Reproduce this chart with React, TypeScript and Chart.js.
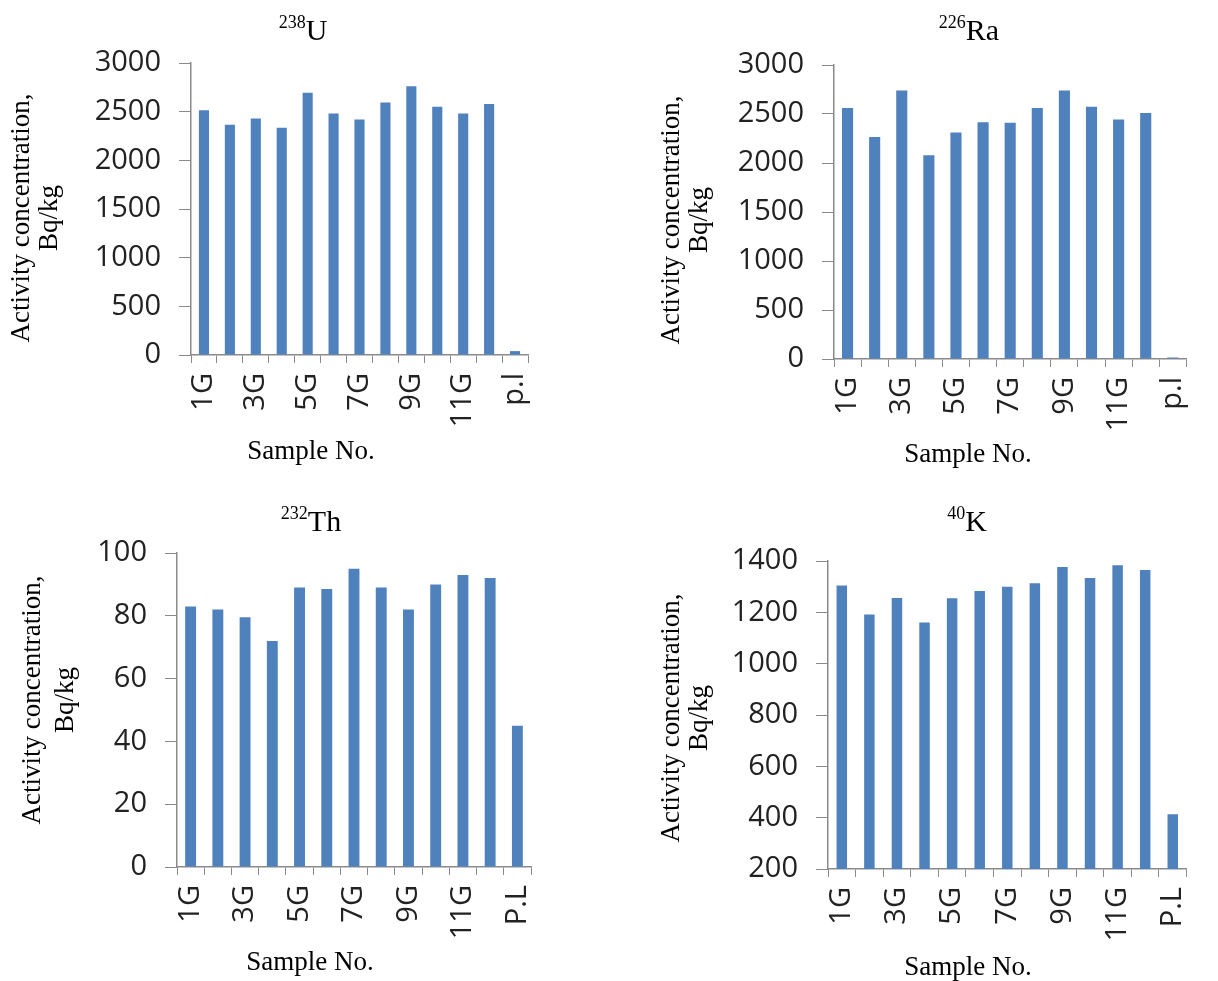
import React, { useEffect, useRef } from "react";
import { Chart, registerables } from "chart.js";
Chart.register(...registerables);

const categoriesLower = ["1G", "2G", "3G", "4G", "5G", "6G", "7G", "8G", "9G", "10G", "11G", "12G", "p.l"];
const categoriesUpper = ["1G", "2G", "3G", "4G", "5G", "6G", "7G", "8G", "9G", "10G", "11G", "12G", "P.L"];

const u238 = [2515, 2365, 2430, 2335, 2695, 2480, 2420, 2595, 2760, 2550, 2480, 2580, 40];
const ra226 = [2560, 2265, 2740, 2080, 2310, 2415, 2410, 2560, 2740, 2575, 2445, 2510, 15];
const th232 = [83, 82, 79.5, 72, 89, 88.5, 95, 89, 82, 90, 93, 92, 45];
const k40 = [1305, 1192, 1256, 1160, 1255, 1283, 1300, 1313, 1377, 1334, 1383, 1365, 413];

const yTitleLines = ["Activity concentration,", "Bq/kg"];
const xTitleText = "Sample No.";

const BAR = "#4F81BD";
const AXIS = "#8a8a8a";
const SERIF = '"Liberation Serif", "Times New Roman", serif';
const SANS = '"Open Sans", "Noto Sans", sans-serif';

type Spec = {
  left: number; top: number; w: number; h: number;
  mass: string; sym: string;
  labels: string[]; values: number[];
  min: number; max: number; step: number;
  padR: number; padT: number;
  yW: number; xH: number;
  titleX: number; titleY: number;
  xtX: number; xtY: number;
  ytX1: number; ytX2: number; ytY: number;
  barPct: number;
};

const specs: Spec[] = [
  { left: 0, top: 0, w: 609, h: 490, mass: "238", sym: "U", labels: categoriesLower, values: u238,
    min: 0, max: 3000, step: 500, padR: 81, padT: 63, yW: 191, xH: 135,
    titleX: 303, titleY: 40, xtX: 311, xtY: 452, ytX1: 22, ytX2: 50, ytY: 218, barPct: 0.39 },
  { left: 609, top: 0, w: 609, h: 490, mass: "226", sym: "Ra", labels: categoriesLower, values: ra226,
    min: 0, max: 3000, step: 500, padR: 10, padT: 65, yW: 225, xH: 131,
    titleX: 360, titleY: 40, xtX: 359, xtY: 455, ytX1: 63, ytX2: 91, ytY: 220, barPct: 0.41 },
  { left: 0, top: 490, w: 609, h: 491, mass: "232", sym: "Th", labels: categoriesUpper, values: th232,
    min: 0, max: 100, step: 20, padR: 78, padT: 63, yW: 177, xH: 114,
    titleX: 311, titleY: 41, xtX: 310, xtY: 473, ytX1: 33, ytX2: 66, ytY: 210, barPct: 0.40 },
  { left: 609, top: 490, w: 609, h: 491, mass: "40", sym: "K", labels: categoriesUpper, values: k40,
    min: 200, max: 1400, step: 200, padR: 11, padT: 71, yW: 219, xH: 112,
    titleX: 358, titleY: 41, xtX: 359, xtY: 478, ytX1: 63, ytX2: 91, ytY: 228, barPct: 0.38 },
];

const textPlugin = {
  id: "isoText",
  afterDraw(chart: any, _args: any, opts: any) {
    const { ctx } = chart;
    ctx.save();
    ctx.fillStyle = "#000";
    ctx.textBaseline = "alphabetic";
    const supFont = `18px ${SERIF}`;
    const mainFont = `30px ${SERIF}`;
    ctx.font = supFont;
    const w1 = ctx.measureText(opts.mass).width;
    ctx.font = mainFont;
    const w2 = ctx.measureText(opts.sym).width;
    const x0 = opts.titleX - (w1 + w2) / 2;
    ctx.font = supFont;
    ctx.fillText(opts.mass, x0, opts.titleY - 12);
    ctx.font = mainFont;
    ctx.fillText(opts.sym, x0 + w1, opts.titleY);

    ctx.font = `27px ${SERIF}`;
    ctx.textAlign = "center";
    ctx.textBaseline = "middle";
    ctx.fillText(xTitleText, opts.xtX, opts.xtY);

    const xs = [opts.ytX1, opts.ytX2];
    yTitleLines.forEach((line, i) => {
      ctx.save();
      ctx.translate(xs[i], opts.ytY);
      ctx.rotate(-Math.PI / 2);
      ctx.fillText(line, 0, 0);
      ctx.restore();
    });
    ctx.restore();
  },
};

function Panel({ s }: { s: Spec }) {
  const ref = useRef<HTMLCanvasElement>(null);
  useEffect(() => {
    if (!ref.current) return;
    const labels = s.labels;
    const chart = new Chart(ref.current, {
      type: "bar",
      data: {
        labels,
        datasets: [{ data: s.values, backgroundColor: BAR, borderWidth: 0, barPercentage: s.barPct, categoryPercentage: 1 }],
      },
      options: {
        animation: false,
        responsive: false,
        devicePixelRatio: 1,
        layout: { padding: { left: 0, right: s.padR, top: s.padT, bottom: 0 } },
        plugins: {
          legend: { display: false },
          tooltip: { enabled: false },
          isoText: {
            mass: s.mass, sym: s.sym, titleX: s.titleX, titleY: s.titleY,
            xtX: s.xtX, xtY: s.xtY, ytX1: s.ytX1, ytX2: s.ytX2, ytY: s.ytY,
          },
        } as any,
        scales: {
          x: {
            type: "category",
            offset: true,
            grid: { display: true, drawOnChartArea: false, drawTicks: true, tickLength: 8, color: AXIS, offset: true },
            border: { display: true, color: AXIS, width: 1.5 },
            ticks: {
              autoSkip: false,
              maxRotation: 90,
              minRotation: 90,
              padding: 10,
              color: "#222",
              font: { family: SANS, size: 29 },
              callback: (_v: any, i: number) => (i % 2 === 0 ? labels[i] : ""),
            },
            afterFit: (sc: any) => { sc.height = s.xH; },
          },
          y: {
            min: s.min,
            max: s.max,
            grid: { display: true, drawOnChartArea: false, drawTicks: true, tickLength: 12, color: AXIS },
            border: { display: true, color: AXIS, width: 1.5 },
            ticks: {
              stepSize: s.step,
              padding: 18,
              color: "#222",
              font: { family: SANS, size: 29 },
              callback: (v: any) => String(v),
            },
            afterFit: (sc: any) => { sc.width = s.yW; },
          },
        },
      },
      plugins: [textPlugin as any],
    });
    return () => chart.destroy();
  }, [s]);
  return (
    <canvas
      ref={ref}
      width={s.w}
      height={s.h}
      style={{ position: "absolute", left: s.left, top: s.top, width: s.w, height: s.h }}
    />
  );
}

export default function App() {
  return (
    <div style={{ position: "absolute", left: 0, top: 0, width: 1218, height: 981, background: "#fff" }}>
      {specs.map((s, i) => (
        <Panel key={i} s={s} />
      ))}
    </div>
  );
}
